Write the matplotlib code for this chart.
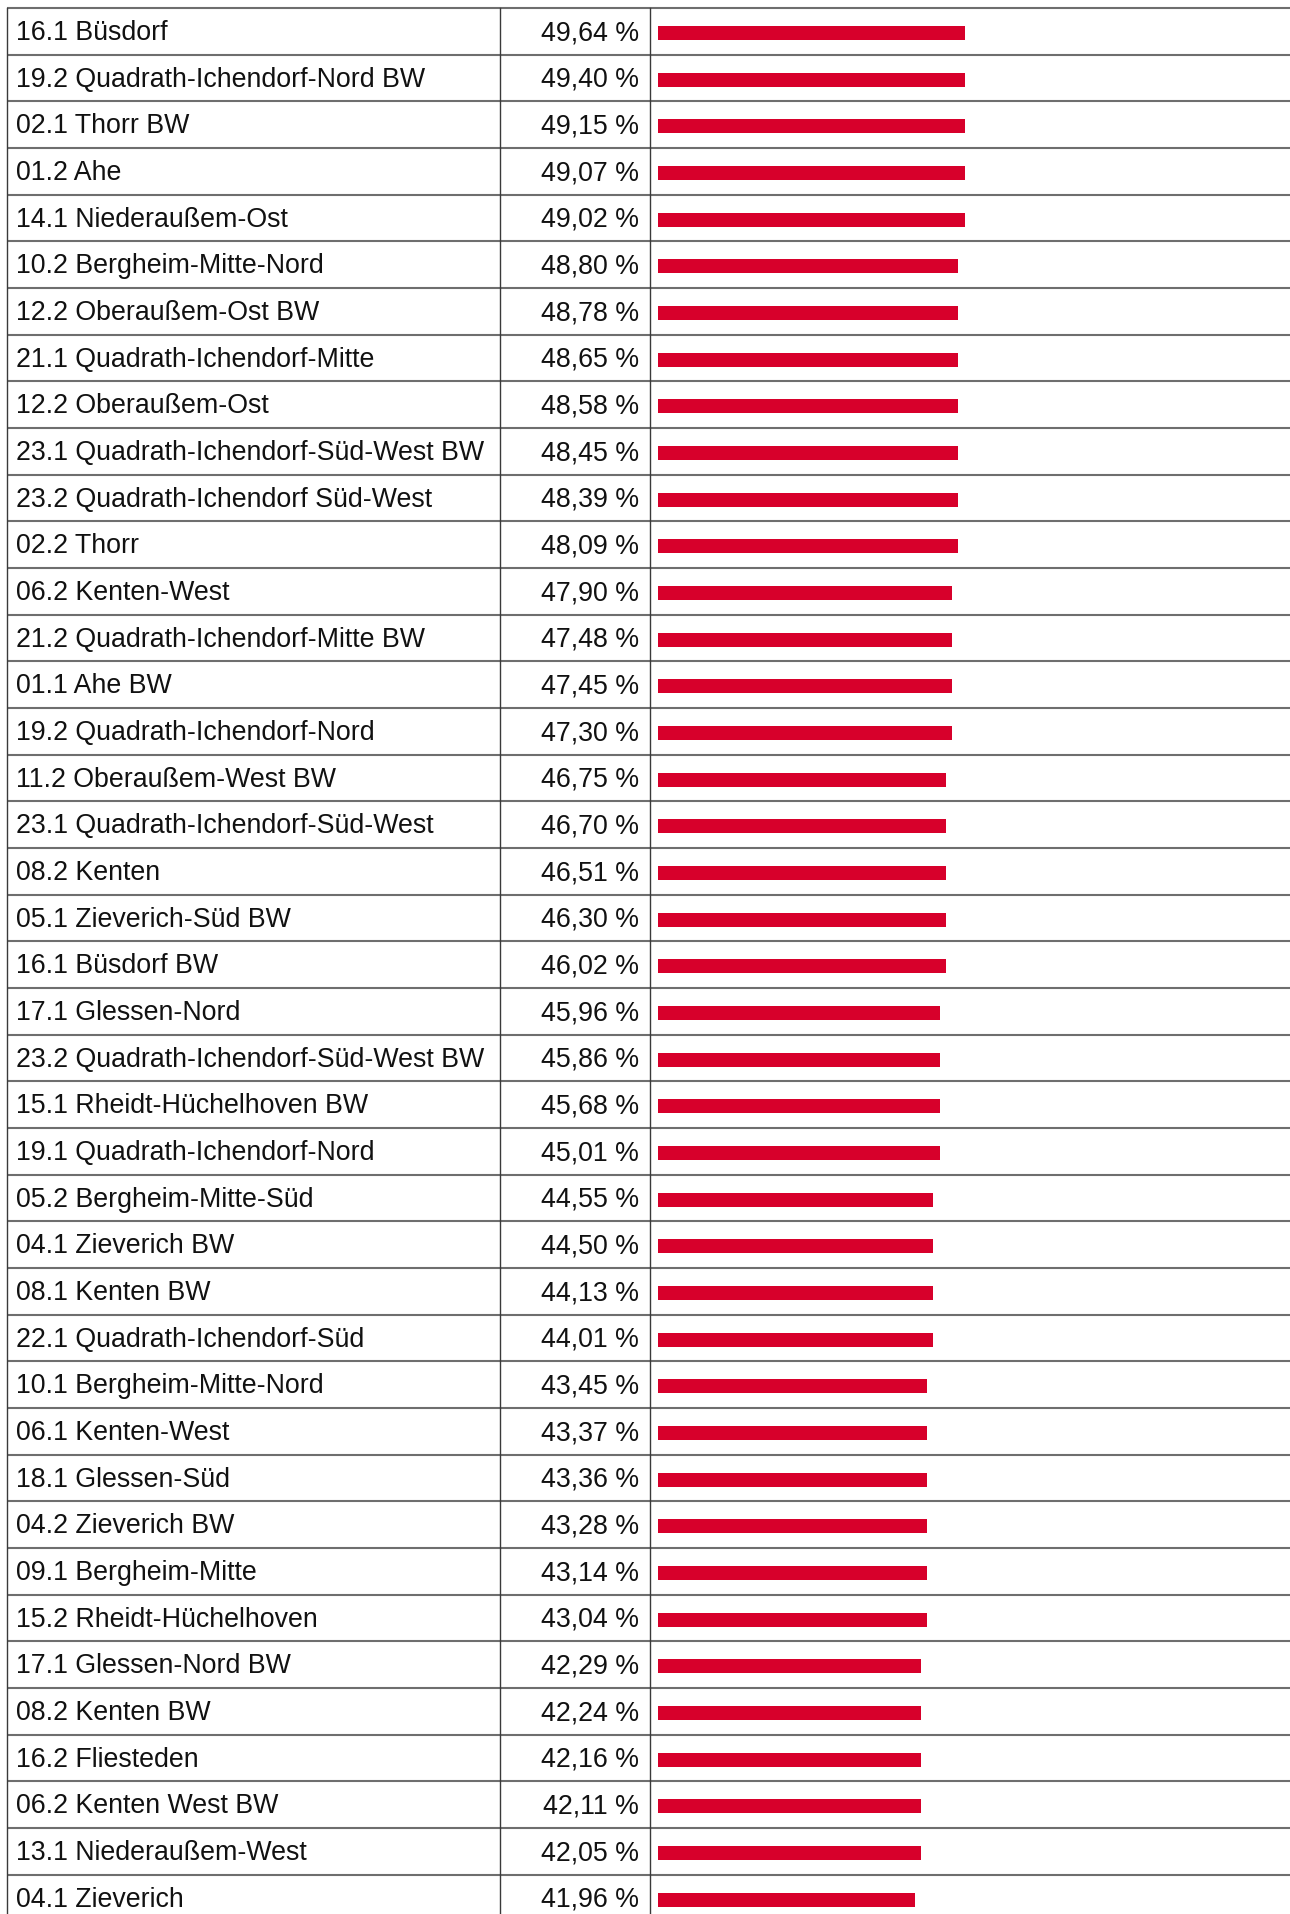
import numpy as np
import matplotlib
matplotlib.use("Agg")
import matplotlib.pyplot as plt

labels = [
    "16.1 Büsdorf", "19.2 Quadrath-Ichendorf-Nord BW", "02.1 Thorr BW", "01.2 Ahe",
    "14.1 Niederaußem-Ost", "10.2 Bergheim-Mitte-Nord", "12.2 Oberaußem-Ost BW",
    "21.1 Quadrath-Ichendorf-Mitte", "12.2 Oberaußem-Ost", "23.1 Quadrath-Ichendorf-Süd-West BW",
    "23.2 Quadrath-Ichendorf Süd-West", "02.2 Thorr", "06.2 Kenten-West",
    "21.2 Quadrath-Ichendorf-Mitte BW", "01.1 Ahe BW", "19.2 Quadrath-Ichendorf-Nord",
    "11.2 Oberaußem-West BW", "23.1 Quadrath-Ichendorf-Süd-West", "08.2 Kenten",
    "05.1 Zieverich-Süd BW", "16.1 Büsdorf BW", "17.1 Glessen-Nord",
    "23.2 Quadrath-Ichendorf-Süd-West BW", "15.1 Rheidt-Hüchelhoven BW",
    "19.1 Quadrath-Ichendorf-Nord", "05.2 Bergheim-Mitte-Süd", "04.1 Zieverich BW",
    "08.1 Kenten BW", "22.1 Quadrath-Ichendorf-Süd", "10.1 Bergheim-Mitte-Nord",
    "06.1 Kenten-West", "18.1 Glessen-Süd", "04.2 Zieverich BW", "09.1 Bergheim-Mitte",
    "15.2 Rheidt-Hüchelhoven", "17.1 Glessen-Nord BW", "08.2 Kenten BW", "16.2 Fliesteden",
    "06.2 Kenten West BW", "13.1 Niederaußem-West", "04.1 Zieverich",
]
values = [
    49.64, 49.40, 49.15, 49.07, 49.02, 48.80, 48.78, 48.65, 48.58, 48.45, 48.39,
    48.09, 47.90, 47.48, 47.45, 47.30, 46.75, 46.70, 46.51, 46.30, 46.02, 45.96,
    45.86, 45.68, 45.01, 44.55, 44.50, 44.13, 44.01, 43.45, 43.37, 43.36, 43.28,
    43.14, 43.04, 42.29, 42.24, 42.16, 42.11, 42.05, 41.96,
]

W, H = 1290, 1914
top = 8.0
row_h = 46.67
n = len(values)

fig = plt.figure(figsize=(W / 100, H / 100), dpi=100)
fig.patch.set_facecolor("white")

# table grid and text in pixel units
ax = fig.add_axes([0, 0, 1, 1])
ax.set_xlim(0, W)
ax.set_ylim(H, 0)
ax.axis("off")

for i in range(n + 1):
    y = top + i * row_h
    ax.plot([7, W], [y, y], color="#6e6e6e", lw=1.5, solid_capstyle="butt", zorder=2)
for x in [7, 499.5, 650]:
    ax.plot([x, x], [top, top + n * row_h], color="#3a3a3a", lw=1.0, zorder=3)

fs = 19.3
for i, (lab, v) in enumerate(zip(labels, values)):
    yb = top + i * row_h + 32
    ax.text(16, yb, lab, fontsize=fs, family="Liberation Sans", va="baseline",
            ha="left", color="#111111")
    ax.text(639, yb, f"{v:.2f}".replace(".", ",") + " %", fontsize=fs,
            family="Liberation Sans", va="baseline", ha="right", color="#111111")

# bar column: 0..100 % across the cell
bx0, bx1 = 658, 1284
bax = fig.add_axes([bx0 / W, 0, (bx1 - bx0) / W, 1])
bax.set_xlim(0, 100)
y_top = -top / row_h - 0.5
y_bot = (H - top) / row_h - 0.5
bax.set_ylim(y_bot, y_top)
bax.axis("off")
bax.patch.set_alpha(0)
rows = np.arange(n)
bax.barh(rows + 0.035, np.floor(values), height=0.3, color="#d7002b", zorder=4)

fig.savefig("out.png", dpi=100)
